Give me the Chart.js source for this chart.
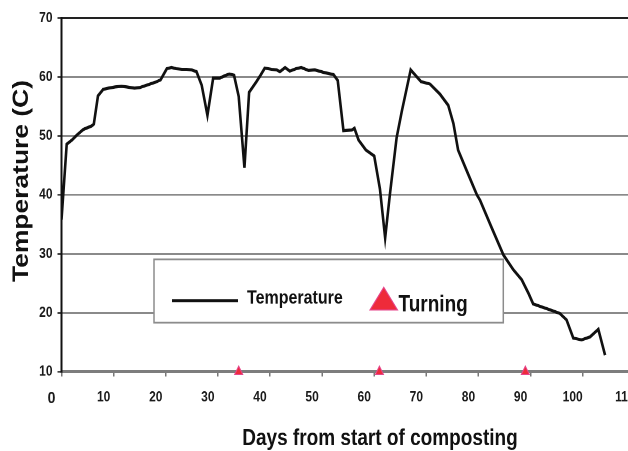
<!DOCTYPE html>
<html><head><meta charset="utf-8">
<script src="https://cdn.jsdelivr.net/npm/chart.js@4.4.0/dist/chart.umd.min.js"></script>
<style>
html,body{margin:0;padding:0;background:#fff;overflow:hidden;width:628px;height:451px;}
#wrap{position:absolute;left:0;top:0;width:660px;height:376px;transform:scaleY(1.2);transform-origin:0 0;}
</style></head><body>
<div id="wrap"><canvas id="c"></canvas></div>
<script>
// ---- data ----
const days  = [0,1,2,2.9,4.2,5.8,6.2,7.0,8,9,10.3,11.5,12.5,14,15,16,17,18,19,20.2,21.1,22,23.1,24,25,25.9,26.9,28,29.1,30.4,31.3,32.2,33.1,34,35.1,36,37.4,38.2,39,40.3,41.3,41.9,42.9,43.8,45,46,47.4,48.6,50.2,52.2,53,54.1,55.7,56.2,57,58.4,60,61.1,62.1,63,64.3,65.3,67,67.8,69,70.7,72.6,74.2,75.2,76.1,77.7,79.7,80.3,82.5,84.8,86.7,88.3,89.6,90.5,91.8,93.7,95.6,96.9,98.2,99.8,101.4,103,104.3];
const temps = [35.8,48.6,49.3,50.1,51.1,51.7,52.0,56.8,57.9,58.1,58.3,58.4,58.3,58.1,58.2,58.5,58.8,59.1,59.5,61.4,61.6,61.4,61.3,61.3,61.2,60.9,58.6,53.5,59.8,59.8,60.2,60.5,60.3,56.7,44.6,57.4,59.2,60.3,61.5,61.3,61.2,60.9,61.6,61.0,61.4,61.6,61.1,61.2,60.8,60.4,59.4,50.9,51.0,51.3,49.3,47.6,46.6,41.0,32.7,40.0,49.7,54.2,61.2,60.4,59.2,58.8,57.1,55.2,52.1,47.6,44.2,40.0,39.1,34.5,29.8,27.3,25.6,23.3,21.5,21.1,20.5,19.9,18.8,15.7,15.4,15.9,17.2,12.8];
const turningDays  = [34, 61, 89];
const turningLevel = [10, 10, 10];
const xTickValues = [0,10,20,30,40,50,60,70,80,90,100,110];
const yTickValues = [10,20,30,40,50,60,70];
const seriesLabels = ['Temperature', 'Turning'];
const xTitle = 'Days from start of composting';
const yTitle = 'Temperature (C)';

// ---- drawing ----
const FONT = '"Liberation Sans", Arial, sans-serif';
const decor = {
  id: 'decor',
  beforeDatasetsDraw(chart) {
    const ctx = chart.ctx;
    ctx.save();
    // legend box
    ctx.fillStyle = '#ffffff';
    ctx.fillRect(154, 216.1, 349.3, 52.8);
    ctx.strokeStyle = '#8c8c8c';
    ctx.lineWidth = 1.5;
    ctx.strokeRect(154, 216.1, 349.3, 52.8);
    // line sample
    ctx.strokeStyle = '#111';
    ctx.lineWidth = 2.4;
    ctx.beginPath(); ctx.moveTo(172, 250.5); ctx.lineTo(238, 250.5); ctx.stroke();
    ctx.fillStyle = '#111';
    ctx.textAlign = 'left'; ctx.textBaseline = 'alphabetic';
    ctx.font = 'bold 16px ' + FONT;
    ctx.fillText(chart.data.datasets[0].label, 247, 252.8);
    // triangle sample
    ctx.beginPath();
    ctx.moveTo(383.8, 239.4); ctx.lineTo(397.5, 258.3); ctx.lineTo(370, 258.3); ctx.closePath();
    ctx.fillStyle = '#ee2b3a'; ctx.fill();
    ctx.strokeStyle = '#e6458a'; ctx.lineWidth = 1; ctx.stroke();
    ctx.fillStyle = '#111';
    ctx.font = 'bold 19px ' + FONT;
    ctx.fillText(chart.data.datasets[1].label, 398.5, 259.7);
    ctx.restore();
  },
  afterDraw(chart) {
    const ctx = chart.ctx;
    ctx.save();
    ctx.fillStyle = '#111';
    ctx.textAlign = 'center'; ctx.textBaseline = 'alphabetic';
    ctx.font = 'bold 19px ' + FONT;
    ctx.fillText(xTitle, 380, 370.8);
    ctx.translate(28, 150.8);
    ctx.rotate(-Math.PI / 2);
    ctx.font = 'bold 22px ' + FONT;
    ctx.fillText(yTitle, 0, 0);
    ctx.restore();
  }
};

new Chart(document.getElementById('c'), {
  type: 'line',
  data: {
    datasets: [
      {
        label: seriesLabels[0],
        data: days.map((d, i) => ({ x: d, y: temps[i] })),
        borderColor: '#111', borderWidth: 2.6, pointRadius: 0, tension: 0, fill: false
      },
      {
        label: seriesLabels[1],
        data: turningDays.map((d, i) => ({ x: d, y: turningLevel[i] })),
        showLine: false, pointStyle: 'triangle', pointRadius: 4.6,
        backgroundColor: '#ee2b3a', borderColor: '#e6458a', borderWidth: 1, clip: false
      }
    ]
  },
  options: {
    responsive: true, maintainAspectRatio: false, animation: false,
    devicePixelRatio: 2,
    layout: { padding: { top: 15, left: 0, right: 25.2, bottom: 0 } },
    plugins: { legend: { display: false }, tooltip: { enabled: false } },
    events: [],
    scales: {
      x: {
        type: 'linear', min: 0, max: 110,
        afterBuildTicks: s => { s.ticks = xTickValues.map(v => ({ value: v })); },
        afterFit: s => { s.height = 66.25; },
        grid: { drawOnChartArea: false, drawTicks: true, tickLength: 4, color: '#777', lineWidth: 1.5 },
        border: { display: true, color: '#7d7d7d', width: 2.5 },
        ticks: {
          padding: 10, labelOffset: -10, color: '#1a1a1a', maxRotation: 0, autoSkip: false,
          font: c => ({ family: FONT, weight: 'bold', size: (c.tick && c.tick.value === 0) ? 14 : 12 })
        }
      },
      y: {
        type: 'linear', min: 10, max: 70,
        afterBuildTicks: s => { s.ticks = yTickValues.map(v => ({ value: v })); },
        afterFit: s => { s.width = 61.5; },
        grid: {
          color: c => (c.tick && c.tick.value === 70) ? '#222' : '#8a8a8a',
          lineWidth: c => (c.tick && c.tick.value === 70) ? 2 : 1.5,
          tickLength: 4, tickColor: '#444'
        },
        border: { display: true, color: '#111', width: 2 },
        ticks: { padding: 5, color: '#1a1a1a', font: { family: FONT, weight: 'bold', size: 12 } }
      }
    }
  },
  plugins: [decor]
});
</script>
</body></html>
